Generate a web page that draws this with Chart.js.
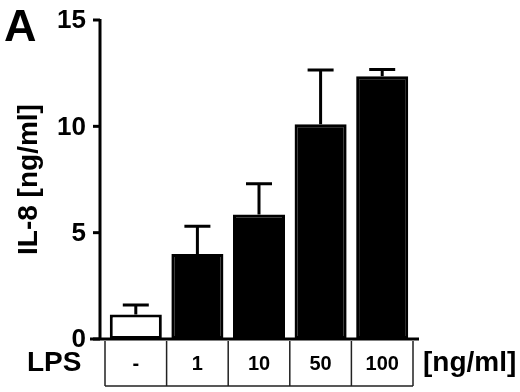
<!DOCTYPE html>
<html>
<head>
<meta charset="utf-8">
<script src="https://cdn.jsdelivr.net/npm/chart.js@4.4.0/dist/chart.umd.min.js"></script>
<style>
    html, body { margin: 0; padding: 0; background: #fff; }
    #wrap { width: 520px; height: 392px; }
</style>
</head>
<body>
<div id="wrap"><canvas id="myBarChart" width="520" height="392"></canvas></div>
<script>
// valores (IL-8 en ng/ml)
const Lps_Doses = ['-', '1', '10', '50', '100'];
const Il8_Means = [1.15, 4.0, 5.85, 10.1, 12.35];
const Il8_Errors = [0.45, 1.3, 1.45, 2.55, 0.32];
const Bar_Colors = ['#ffffff', '#000000', '#000000', '#000000', '#000000'];
const Y_Ticks = [0, 5, 10, 15];

const FONT = "'Liberation Sans', Arial, sans-serif";

// dibuja ejes, barras de error y la tabla de dosis debajo
const figurePlugin = {
    id: 'figurePlugin',
    afterDatasetsDraw(chart) {
        const ctx = chart.ctx;
        const xs = chart.scales.x;
        const ys = chart.scales.y;
        const area = chart.chartArea;
        const meta = chart.getDatasetMeta(0);

        ctx.save();
        ctx.strokeStyle = '#000';
        ctx.fillStyle = '#000';

        // barras de error
        ctx.lineWidth = 3;
        meta.data.forEach((bar, i) => {
            const top = ys.getPixelForValue(Il8_Means[i] + Il8_Errors[i]);
            ctx.beginPath();
            ctx.moveTo(bar.x, bar.y);
            ctx.lineTo(bar.x, top);
            ctx.moveTo(bar.x - 13, top);
            ctx.lineTo(bar.x + 13, top);
            ctx.stroke();
        });

        // ejes
        const axisX = area.left - 5;
        const zeroY = ys.getPixelForValue(0);
        ctx.lineWidth = 3;
        ctx.beginPath();
        ctx.moveTo(axisX, ys.getPixelForValue(15) - 1);
        ctx.lineTo(axisX, zeroY);
        ctx.moveTo(axisX - 10, zeroY);
        ctx.lineTo(area.right + 6, zeroY);
        ctx.stroke();

        // marcas y etiquetas del eje Y
        ctx.font = 'bold 26px ' + FONT;
        ctx.textAlign = 'right';
        ctx.textBaseline = 'middle';
        Y_Ticks.forEach(t => {
            const py = ys.getPixelForValue(t);
            ctx.beginPath();
            ctx.moveTo(axisX - 7, py);
            ctx.lineTo(axisX, py);
            ctx.stroke();
            ctx.fillText(String(t), axisX - 14, py + 1);
        });

        // tabla de dosis
        const step = xs.getPixelForValue(1) - xs.getPixelForValue(0);
        const tTop = zeroY + 2;
        const tBot = zeroY + 47;
        ctx.lineWidth = 1.5;
        ctx.strokeStyle = '#222';
        ctx.beginPath();
        for (let i = 0; i <= Lps_Doses.length; i++) {
            const bx = xs.getPixelForValue(0) - step / 2 + i * step;
            ctx.moveTo(bx, tTop);
            ctx.lineTo(bx, tBot);
        }
        ctx.moveTo(xs.getPixelForValue(0) - step / 2, tBot);
        ctx.lineTo(xs.getPixelForValue(Lps_Doses.length - 1) + step / 2, tBot);
        ctx.stroke();

        ctx.font = 'bold 20px ' + FONT;
        ctx.textAlign = 'center';
        Lps_Doses.forEach((d, i) => {
            ctx.fillText(d, xs.getPixelForValue(i), (tTop + tBot) / 2 + 1);
        });

        // textos
        ctx.font = 'bold 28px ' + FONT;
        ctx.textAlign = 'left';
        ctx.fillText('LPS', 27, (tTop + tBot) / 2);
        ctx.fillText('[ng/ml]', 423, (tTop + tBot) / 2);

        ctx.font = 'bold 45px ' + FONT;
        ctx.textBaseline = 'alphabetic';
        ctx.fillText('A', 4, 41);

        ctx.save();
        ctx.translate(37, (ys.getPixelForValue(15) + zeroY) / 2);
        ctx.rotate(-Math.PI / 2);
        ctx.font = 'bold 28px ' + FONT;
        ctx.textAlign = 'center';
        ctx.fillText('IL-8 [ng/ml]', 0, 0);
        ctx.restore();

        ctx.restore();
    }
};

function createBarChart() {
    const ctx = document.getElementById('myBarChart').getContext('2d');

    new Chart(ctx, {
        type: 'bar',
        data: {
            labels: Lps_Doses,
            datasets: [{
                data: Il8_Means,
                backgroundColor: Bar_Colors,
                borderColor: '#000',
                borderWidth: 3,
                borderSkipped: false,
                barPercentage: 0.845,
                categoryPercentage: 1
            }]
        },
        options: {
            responsive: false,
            animation: false,
            devicePixelRatio: 1,
            layout: {
                padding: { left: 105, right: 107, top: 20, bottom: 53 }
            },
            scales: {
                x: { display: false, offset: true },
                y: { display: false, min: 0, max: 15 }
            },
            plugins: {
                legend: { display: false },
                tooltip: { enabled: false }
            }
        },
        plugins: [figurePlugin]
    });
}

document.addEventListener('DOMContentLoaded', createBarChart);
</script>
</body>
</html>
